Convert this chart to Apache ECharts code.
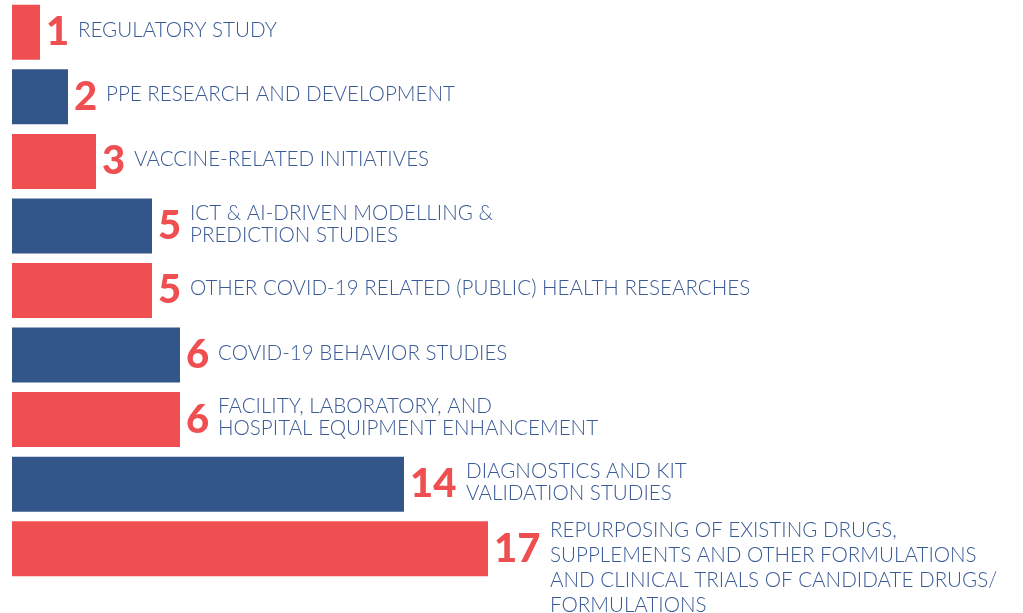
<!DOCTYPE html>
<html>
<head>
<meta charset="utf-8">
<script src="https://cdn.jsdelivr.net/npm/echarts@6/dist/echarts.min.js"></script>
<style>
html,body{margin:0;padding:0;background:#fff;}
#chart{width:1023px;height:613px;}
</style>
</head>
<body>
<div id="chart"></div>
<script>
const categories = [
  'REGULATORY STUDY',
  'PPE RESEARCH AND DEVELOPMENT',
  'VACCINE-RELATED INITIATIVES',
  'ICT & AI-DRIVEN MODELLING &\nPREDICTION STUDIES',
  'OTHER COVID-19 RELATED (PUBLIC) HEALTH RESEARCHES',
  'COVID-19 BEHAVIOR STUDIES',
  'FACILITY, LABORATORY, AND\nHOSPITAL EQUIPMENT ENHANCEMENT',
  'DIAGNOSTICS AND KIT\nVALIDATION STUDIES',
  'REPURPOSING OF EXISTING DRUGS,\nSUPPLEMENTS AND OTHER FORMULATIONS\nAND CLINICAL TRIALS OF CANDIDATE DRUGS/\nFORMULATIONS'
];
const values = [1, 2, 3, 5, 5, 6, 6, 14, 17];

const RED = '#F04F52';
const BLUE = '#33568A';
const TEXT = '#3A5A96';

const barData = values.map((v, i) => ({
  value: v,
  itemStyle: { color: i % 2 === 0 ? RED : BLUE }
}));

const textData = values.map((v, i) => {
  const digits = String(v).length;
  const lines = categories[i].split('\n').length;
  return {
    value: v,
    label: {
      offset: [8 + digits * 24 + 6, lines > 2 ? 19 : -2],
      lineHeight: lines > 2 ? 25 : 22
    }
  };
});

const chart = echarts.init(document.getElementById('chart'));
chart.setOption({
  animation: false,
  grid: { left: 12, right: 3, top: 0, bottom: 32 },
  xAxis: { type: 'value', min: 0, max: 36, show: false },
  yAxis: { type: 'category', data: categories, inverse: true, show: false },
  series: [
    {
      type: 'bar',
      data: barData,
      barWidth: 55,
      label: {
        show: true,
        position: 'right',
        distance: 6,
        color: RED,
        fontFamily: 'Lato',
        fontWeight: 900,
        fontSize: 40,
        formatter: p => String(p.value)
      }
    },
    {
      type: 'bar',
      data: textData,
      barWidth: 55,
      barGap: '-100%',
      itemStyle: { color: 'rgba(0,0,0,0)' },
      label: {
        show: true,
        position: 'right',
        distance: 0,
        color: TEXT,
        fontFamily: 'Lato',
        fontWeight: 300,
        fontSize: 20.6,
        align: 'left',
        formatter: p => categories[p.dataIndex]
      }
    }
  ]
});
</script>
</body>
</html>
